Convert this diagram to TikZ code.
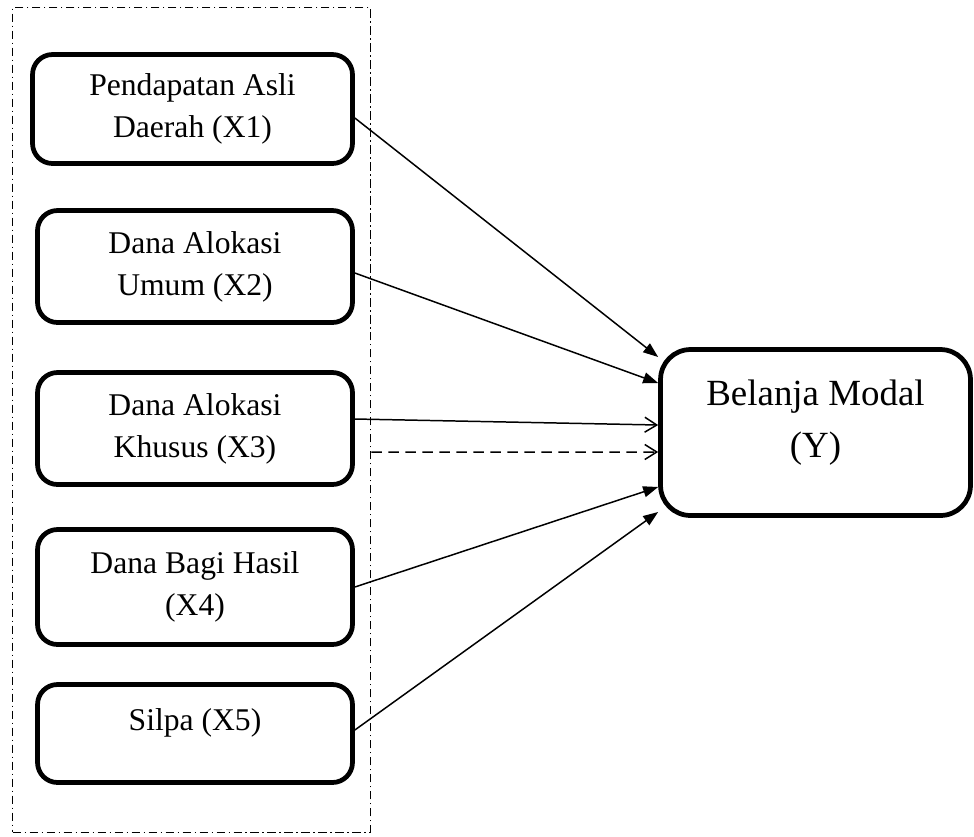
\documentclass[tikz,border=0pt]{standalone}
\usepackage{fontspec}
\setmainfont{Liberation Serif}
\usetikzlibrary{arrows.meta}

\tikzset{
  varbox/.style={draw, line width=2.7pt, rounded corners=0.4cm, align=center,
    minimum width=6.3cm, minimum height=2.24cm, inner sep=0pt,
    font=\fontsize{18}{24}\selectfont},
  panah/.style={-{Triangle[length=0.3cm,width=0.22cm]}, line width=0.85pt},
  panahbuka/.style={-{Straight Barb[length=0.24cm,width=0.3cm]}, line width=0.85pt},
}

\begin{document}
\begin{tikzpicture}[x=0.02cm,y=-0.02cm]
\useasboundingbox (0,0) rectangle (974,836);
% Group of independent variables
\node[draw, line width=1pt, dash pattern=on 0.17cm off 0.07cm on 0.03cm off 0.07cm,
  minimum width=7.16cm, minimum height=16.5cm, inner sep=0pt] (kelompok) at (191.5,420) {};
% X boxes
\node[varbox, minimum width=6.4cm, minimum height=2.18cm] (pad) at (192.5,109) {Pendapatan Asli\\Daerah (X1)};
\node[varbox] (dau) at (195,266.5) {Dana Alokasi\\Umum (X2)};
\node[varbox] (dak) at (195,428.5) {Dana Alokasi\\Khusus (X3)};
\node[varbox, minimum height=2.3cm] (dbh) at (195,587) {Dana Bagi Hasil\\(X4)};
\node[varbox, minimum height=1.96cm, text depth=0.55cm] (silpa) at (195,733.5) {Silpa (X5)};
% Y box
\node[varbox, rounded corners=0.6cm, minimum width=6.2cm, minimum height=3.32cm,
  text depth=0.56cm, font=\fontsize{21}{29.6}\selectfont] (bm) at (815.5,432.5) {Belanja Modal\\(Y)};
% Arrows
\draw[panah] ([yshift=-0.18cm]pad.east) -- ([yshift=1.51cm]bm.west);
\draw[panah] ([yshift=-0.13cm]dau.east) -- ([yshift=0.99cm]bm.west);
\draw[panahbuka] ([yshift=0.19cm]dak.east) -- ([yshift=0.15cm]bm.west);
\draw[panahbuka, dash pattern=on 0.21cm off 0.13cm] ([yshift=-0.64cm]kelompok.east) -- ([yshift=-0.39cm]bm.west);
\draw[panah] (dbh.east) -- ([yshift=-1.09cm]bm.west);
\draw[panah] ([yshift=0.07cm]silpa.east) -- ([yshift=-1.59cm]bm.west);
\end{tikzpicture}
\end{document}
